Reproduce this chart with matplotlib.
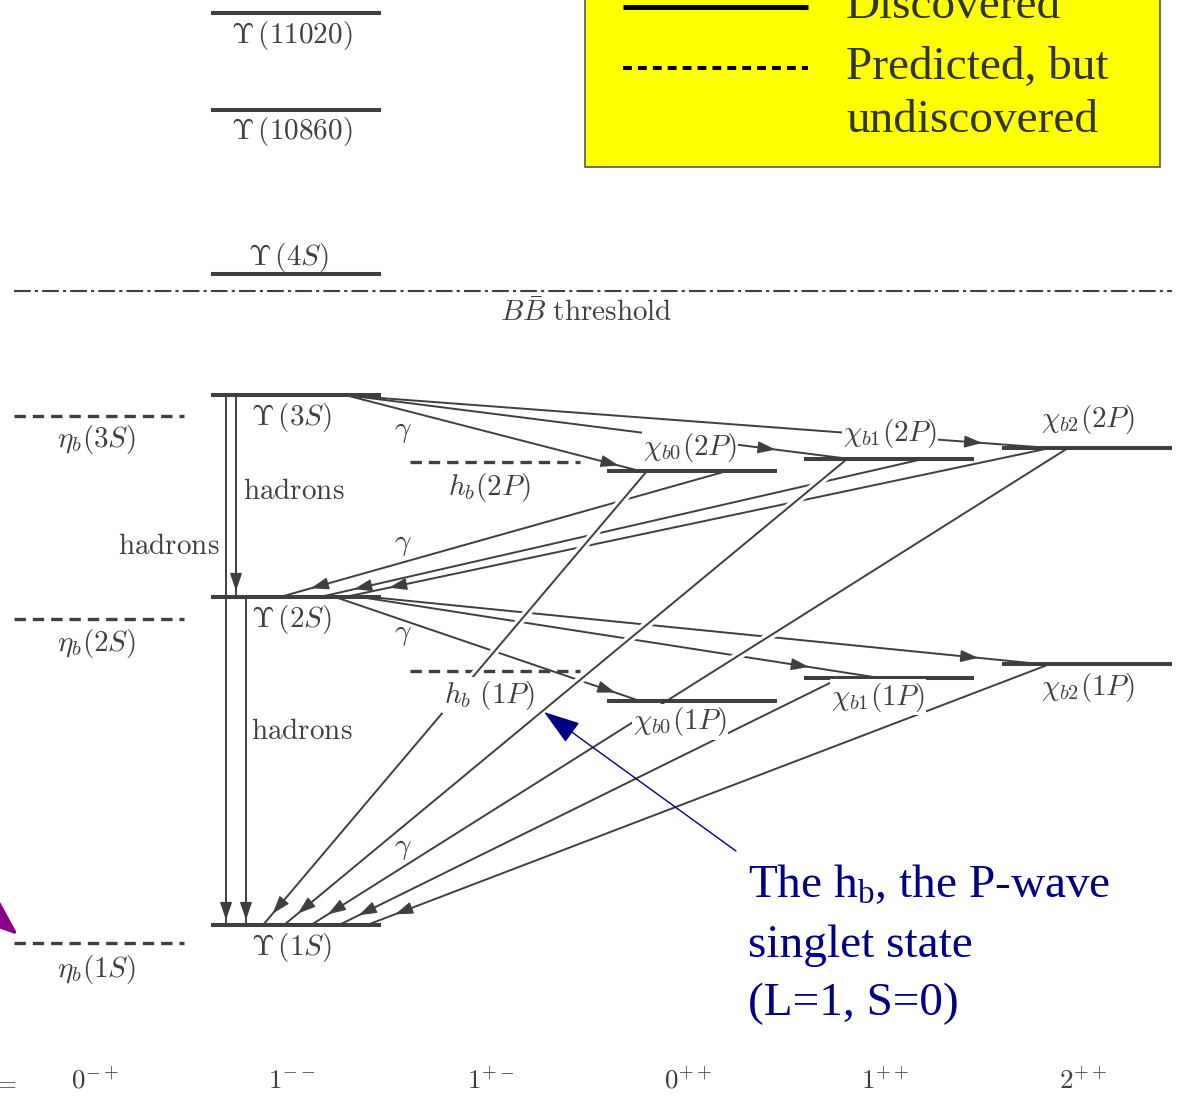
import matplotlib
matplotlib.use('Agg')
import matplotlib.pyplot as plt
import matplotlib.patheffects as pe
from matplotlib.patches import Rectangle
import numpy as np

plt.rcParams['mathtext.fontset'] = 'cm'
plt.rcParams['mathtext.rm'] = 'Liberation Serif'
plt.rcParams['mathtext.it'] = 'Liberation Serif:italic'

# J^PC columns
jpc_labels = [r'$0^{-+}$', r'$1^{--}$', r'$1^{+-}$', r'$0^{++}$', r'$1^{++}$', r'$2^{++}$']
jpc_x = [99, 296, 495, 692, 889, 1087]

# levels (y in diagram units, grows downward like the picture)
level_names = ['Y11020', 'Y10860', 'Y4S', 'Y3S', 'Y2S', 'Y1S',
               'eta3S', 'eta2S', 'eta1S', 'hb2P', 'hb1P',
               'chi0_2P', 'chi1_2P', 'chi2_2P', 'chi0_1P', 'chi1_1P', 'chi2_1P']
level_col = [1, 1, 1, 1, 1, 1, 0, 0, 0, 2, 2, 3, 4, 5, 3, 4, 5]
level_y = [13, 110, 274, 395, 597, 925, 416, 619, 943, 462, 671,
           471, 459, 448, 701, 678, 664]
level_found = [1, 1, 1, 1, 1, 1, 0, 0, 0, 0, 0, 1, 1, 1, 1, 1, 1]
level_tex = [r'$\Upsilon\,(11020)$', r'$\Upsilon\,(10860)$', r'$\Upsilon\,(4S)$',
             r'$\Upsilon\,(3S)$', r'$\Upsilon\,(2S)$', r'$\Upsilon\,(1S)$',
             r'$\eta_b(3S)$', r'$\eta_b(2S)$', r'$\eta_b(1S)$',
             r'$h_b(2P)$', r'$h_b\ (1P)$',
             r'$\chi_{b0}(2P)$', r'$\chi_{b1}(2P)$', r'$\chi_{b2}(2P)$',
             r'$\chi_{b0}(1P)$', r'$\chi_{b1}(1P)$', r'$\chi_{b2}(1P)$']

# transitions: from, to, x at start, x at end
trans_from = ['Y3S', 'Y3S', 'Y3S',
              'chi0_2P', 'chi1_2P', 'chi2_2P',
              'Y2S', 'Y2S', 'Y2S',
              'chi0_2P', 'chi1_2P', 'chi2_2P',
              'chi1_1P', 'chi2_1P',
              'Y3S', 'Y3S', 'Y2S']
trans_to = ['chi0_2P', 'chi1_2P', 'chi2_2P',
            'Y2S', 'Y2S', 'Y2S',
            'chi0_1P', 'chi1_1P', 'chi2_1P',
            'Y1S', 'Y1S', 'Y1S',
            'Y1S', 'Y1S',
            'Y2S', 'Y1S', 'Y1S']
trans_x0 = [345, 345, 340, 727, 923, 1050, 335, 360, 370, 647, 847, 1068, 840, 1050, 236, 226, 246]
trans_x1 = [640, 850, 1050, 280, 320, 345, 640, 880, 1040, 263, 284, 311, 339, 367, 236, 226, 246]

# ---- layout / style ----
W, H = 1179, 1104
ink = '#3f3f3f'
fs = 21
halfw = 85
label_off = {'Y11020': (-4, 22), 'Y10860': (-4, 22), 'Y4S': (-7, -16), 'Y3S': (-4, 22),
             'Y2S': (-4, 23), 'Y1S': (-4, 23), 'eta3S': (-2, 24), 'eta2S': (-2, 24),
             'eta1S': (-2, 27), 'hb2P': (-6, 25), 'hb1P': (-6, 24),
             'chi0_2P': (-2, -24), 'chi1_2P': (1, -26), 'chi2_2P': (1, -28),
             'chi0_1P': (-12, 21), 'chi1_1P': (-11, 19), 'chi2_1P': (1, 23)}
white_box = ['chi0_2P', 'chi1_2P', 'chi0_1P', 'chi1_1P', 'hb1P']
head_back = [22, 75, 68, 32, 35, 45, 26, 72, 62, 15, 18, 20, 22, 30, 6, 5, 5]
halo = [pe.Stroke(linewidth=6, foreground='white'), pe.Normal()]

fig = plt.figure(figsize=(W / 100, H / 100), dpi=100)
ax = fig.add_axes([0, 0, 1, 1])
ax.set_xlim(0, W)
ax.set_ylim(H, 0)
ax.axis('off')

idx = {n: i for i, n in enumerate(level_names)}

# transitions
for k, (a, b) in enumerate(zip(trans_from, trans_to)):
    xa, xb = trans_x0[k], trans_x1[k]
    ya, yb = level_y[idx[a]], level_y[idx[b]]
    on_top = (b == 'Y1S' and xa != xb)
    ax.plot([xa, xb], [ya, yb], color=ink, lw=1.4, solid_capstyle='butt',
            zorder=3 if on_top else 2, path_effects=halo if on_top else None)
    u = np.array([xb - xa, yb - ya], float)
    u /= np.hypot(*u)
    tip = np.array([xb, yb]) - head_back[k] * u
    ax.annotate('', xy=tip, xytext=tip - 3 * u,
                arrowprops=dict(arrowstyle='-|>,head_length=0.5,head_width=0.17',
                                mutation_scale=22, color=ink, lw=1,
                                shrinkA=0, shrinkB=0), zorder=4)

# levels
for i, name in enumerate(level_names):
    xc = jpc_x[level_col[i]]
    y = level_y[i]
    if level_found[i]:
        ax.plot([xc - halfw, xc + halfw], [y, y], color=ink, lw=2.9,
                solid_capstyle='butt', zorder=5)
    else:
        ax.plot([xc - halfw, xc + halfw], [y, y], color=ink, lw=2.4,
                linestyle=(0, (3.4, 2.1)), zorder=1)
    dx, dy = label_off[name]
    bb = dict(facecolor='white', edgecolor='none', pad=1) if name in white_box else None
    ax.text(xc + dx, y + dy, level_tex[i], fontsize=fs, color=ink,
            ha='center', va='center', bbox=bb, zorder=6)

# BB threshold
ax.plot([14, 1172], [291, 291], color=ink, lw=1.5, linestyle=(0, (8, 2, 1.5, 2)))
ax.text(586, 313, r'$B\bar{B}\ \mathrm{threshold}$', fontsize=fs, color=ink,
        ha='center', va='center')

# hadrons / gamma labels
ax.text(243, 491, r'$\mathrm{hadrons}$', fontsize=fs, color=ink, ha='left', va='center')
ax.text(220, 546, r'$\mathrm{hadrons}$', fontsize=fs, color=ink, ha='right', va='center')
ax.text(251, 731, r'$\mathrm{hadrons}$', fontsize=fs, color=ink, ha='left', va='center')
for gx, gy in [(403, 431), (403, 544), (403, 634), (403, 848)]:
    ax.text(gx, gy, r'$\gamma$', fontsize=fs, color=ink, ha='center', va='center')

# J^PC row
for lab, xc in zip(jpc_labels, jpc_x):
    ax.text(xc - 4, 1081, lab, fontsize=19.5, color=ink, ha='center', va='center')
ax.text(4, 1083, r'$=$', fontsize=19.5, color=ink, ha='center', va='center')

# legend box
ax.add_patch(Rectangle((585, -10), 575, 177, facecolor='#ffff00',
                       edgecolor='#555555', lw=1.2, zorder=7))
ax.plot([623, 808], [7, 7], color='black', lw=3.6, solid_capstyle='butt', zorder=8)
ax.plot([623, 808], [68, 68], color='black', lw=2.9,
        linestyle=(0, (2.2, 1.5)), zorder=8)
for txt, yb in [('Discovered', 18), ('Predicted, but', 79), ('undiscovered', 132)]:
    ax.text(846, yb, txt, fontsize=34, color='#333333', family='Liberation Serif',
            ha='left', va='baseline', zorder=8)

# annotation for h_b
navy = '#000080'
ax.annotate('', xy=(544, 712), xytext=(736, 851),
            arrowprops=dict(arrowstyle='-|>,head_length=1.15,head_width=0.38',
                            mutation_scale=20, color=navy, lw=1,
                            shrinkA=0, shrinkB=0), zorder=9)
ax.text(748, 897, r'The $\mathrm{h}_\mathrm{b}$, the P-wave', fontsize=34, color=navy,
        family='Liberation Serif', math_fontfamily='custom', ha='left', va='baseline')
ax.text(748, 957, 'singlet state', fontsize=34, color=navy,
        family='Liberation Serif', ha='left', va='baseline')
ax.text(748, 1015, '(L=1, S=0)', fontsize=34, color=navy,
        family='Liberation Serif', ha='left', va='baseline')

# purple pointer to eta_b(1S) from outside the frame
ax.annotate('', xy=(18, 935), xytext=(-70, 860),
            arrowprops=dict(arrowstyle='-|>,head_length=1.3,head_width=0.5',
                            mutation_scale=22, color='#8b008b', lw=2.5,
                            shrinkA=0, shrinkB=0), annotation_clip=False)

fig.savefig('out.png', dpi=100)
